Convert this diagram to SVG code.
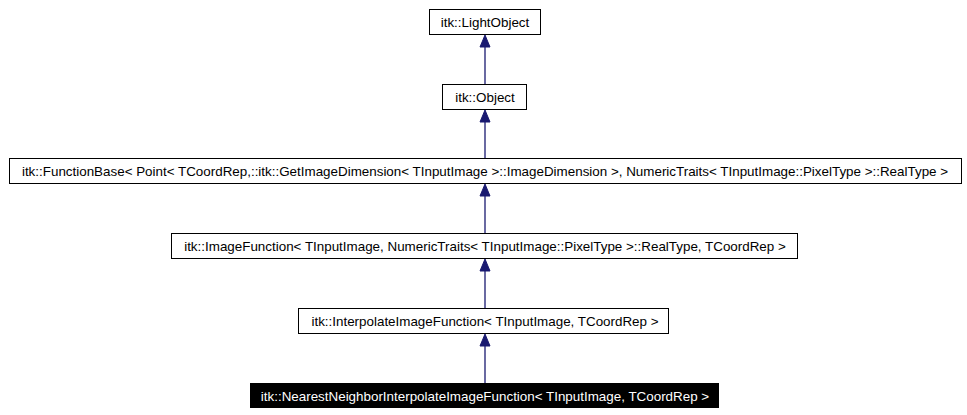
<svg xmlns="http://www.w3.org/2000/svg" width="967" height="415" viewBox="0 0 967 415">
<style>
.b{fill:#fff;stroke:#000;stroke-width:1}
.t{font-family:"Liberation Sans",Arial,sans-serif;font-size:13.4px;text-anchor:middle;fill:#000}
.e{stroke:#191970;stroke-width:1.3;fill:none}
.h{fill:#191970;stroke:#191970}
</style>
<rect width="967" height="415" fill="#fff"/>
<g id="connectors">
<path class="e" d="M485 84V46"/><path class="h" d="M485 35l-5 12h10z"/>
<path class="e" d="M485 158V121"/><path class="h" d="M485 110l-5 12h10z"/>
<path class="e" d="M485 233V195"/><path class="h" d="M485 184l-5 12h10z"/>
<path class="e" d="M485 308V270"/><path class="h" d="M485 259l-5 12h10z"/>
<path class="e" d="M485 383V345"/><path class="h" d="M485 334l-5 12h10z"/>
</g>
<g id="lightobject"><rect class="b" x="429.5" y="9.5" width="111" height="25"/><text class="t" x="485" y="26.5">itk::LightObject</text></g>
<g id="object"><rect class="b" x="442.5" y="84.5" width="84" height="25"/><text class="t" x="485" y="101.5">itk::Object</text></g>
<g id="functionbase"><rect class="b" x="9.5" y="158.5" width="952" height="25"/><text class="t" x="485" y="175.5">itk::FunctionBase&lt; Point&lt; TCoordRep,::itk::GetImageDimension&lt; TInputImage &gt;::ImageDimension &gt;, NumericTraits&lt; TInputImage::PixelType &gt;::RealType &gt;</text></g>
<g id="imagefunction"><rect class="b" x="171.5" y="233.5" width="626" height="25"/><text class="t" x="485" y="250.5">itk::ImageFunction&lt; TInputImage, NumericTraits&lt; TInputImage::PixelType &gt;::RealType, TCoordRep &gt;</text></g>
<g id="interpolate"><rect class="b" x="298.5" y="308.5" width="370" height="25"/><text class="t" x="485" y="325.5">itk::InterpolateImageFunction&lt; TInputImage, TCoordRep &gt;</text></g>
<g id="nearest"><rect x="250" y="383" width="469" height="25" fill="#000"/><text class="t" x="485" y="400.5" style="fill:#fff">itk::NearestNeighborInterpolateImageFunction&lt; TInputImage, TCoordRep &gt;</text></g>
</svg>
